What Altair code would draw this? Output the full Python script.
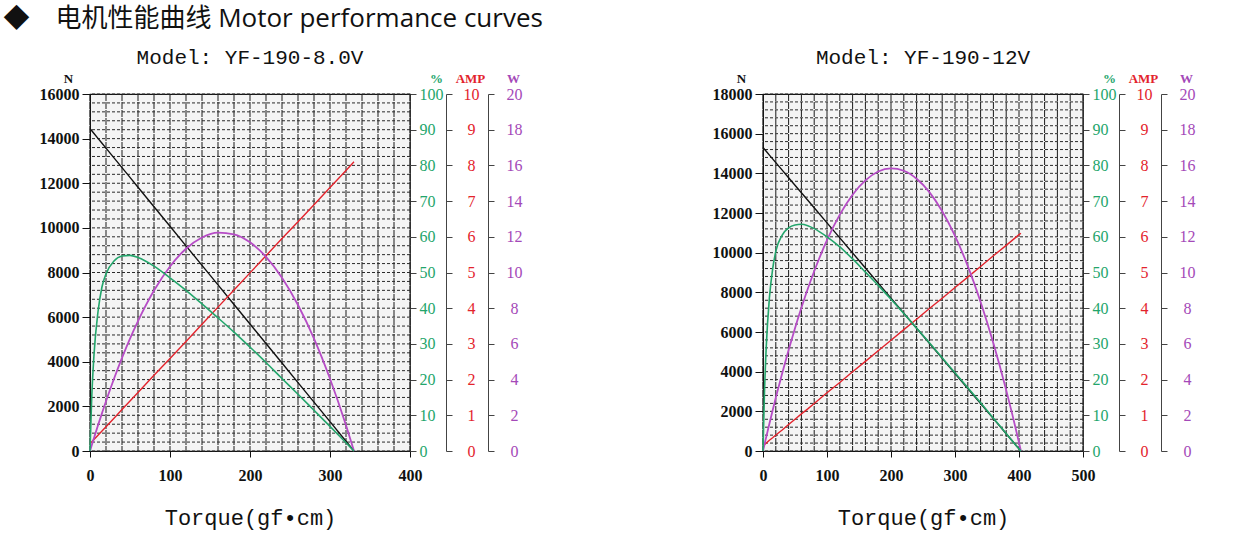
import altair as alt
import pandas as pd

# ---- YF-190 at 8.0 V ----
torque_8v = [0, 2, 5, 10, 15, 20, 30, 40, 50, 60, 80, 100, 120, 140, 160, 180,
             200, 220, 240, 260, 280, 300, 320, 330]
speed_8v = [14450, 14362, 14231, 14012, 13793, 13574, 13136, 12698, 12261, 11823,
            10947, 10071, 9195, 8320, 7444, 6568, 5692, 4817, 3941, 3065, 2189,
            1314, 438, 0]
eff_8v = [0, 14, 27, 39, 46, 49.6, 53.2, 54.6, 54.8, 54.2, 51.8, 48.5, 45.0, 41.2,
          37.3, 33.3, 29.1, 24.8, 20.3, 15.9, 11.4, 6.9, 2.3, 0]
current_8v = [0.20, 0.25, 0.32, 0.44, 0.56, 0.68, 0.92, 1.16, 1.40, 1.64, 2.12, 2.59,
              3.07, 3.55, 4.03, 4.51, 4.99, 5.47, 5.95, 6.42, 6.90, 7.38, 7.86, 8.10]
power_8v = [0, 0.30, 0.73, 1.44, 2.12, 2.79, 4.05, 5.22, 6.30, 7.28, 8.99, 10.34,
            11.33, 11.96, 12.23, 12.14, 11.69, 10.88, 9.71, 8.18, 6.30, 4.05, 1.44, 0]

# ---- YF-190 at 12 V ----
torque_12v = [0, 2, 5, 10, 15, 20, 30, 40, 50, 60, 70, 80, 100, 120, 140, 160, 180,
              200, 220, 240, 260, 280, 300, 320, 340, 360, 380, 400, 403]
speed_12v = [15300, 15224, 15110, 14920, 14731, 14541, 14161, 13781, 13402, 13022,
             12642, 12263, 11503, 10744, 9985, 9226, 8466, 7707, 6948, 6188, 5429,
             4670, 3910, 3151, 2392, 1633, 873, 114, 0]
eff_12v = [0, 14.5, 28.9, 42.9, 50.9, 55.9, 60.5, 62.5, 63.3, 63.5, 63.1, 62.3, 60.0,
           57.2, 53.8, 50.1, 46.4, 42.5, 38.5, 34.4, 30.3, 26.1, 21.9, 17.7, 13.5,
           9.2, 4.9, 0.6, 0]
current_12v = [0.15, 0.18, 0.22, 0.30, 0.37, 0.45, 0.59, 0.74, 0.89, 1.04, 1.18, 1.33,
               1.63, 1.92, 2.22, 2.51, 2.81, 3.10, 3.40, 3.69, 3.99, 4.28, 4.58, 4.87,
               5.17, 5.47, 5.76, 6.06, 6.10]
power_12v = [0, 0.31, 0.78, 1.53, 2.27, 2.99, 4.36, 5.66, 6.88, 8.02, 9.09, 10.07,
             11.81, 13.24, 14.36, 15.16, 15.66, 15.83, 15.70, 15.25, 14.50, 13.43,
             12.05, 10.36, 8.35, 6.04, 3.41, 0.47, 0]

pct_ticks = list(range(0, 101, 10))
amp_ticks = list(range(0, 11))
watt_ticks = list(range(0, 21, 2))

GREEN = "#23a56b"
RED = "#e3232c"
PURPLE = "#a449b8"
PURPLE_LINE = "#b64cc6"
SERIF = "Liberation Serif"
MONO = "Liberation Mono"

W, H = 320, 357


def x_enc(field, x_max):
    return alt.X(
        f"{field}:Q",
        scale=alt.Scale(domain=[0, x_max], nice=False, zero=True),
        axis=alt.Axis(
            values=list(range(0, x_max + 1, 100)), format="d", title="Torque(gf•cm)",
            titleFont=MONO, titleFontSize=22, titleFontWeight="normal",
            titleColor="#111", titlePadding=24,
            labelFont=SERIF, labelFontSize=16, labelFontWeight="bold",
            labelColor="#111", labelPadding=10, tickSize=6, tickColor="#111",
            domainColor="#111", grid=False, labelFlush=False,
        ),
    )


def right_axis(ticks, color, title, offset, align, pad, title_x):
    return alt.Axis(
        orient="right", offset=offset, values=ticks, format="d", grid=False,
        labelFont=SERIF, labelFontSize=16, labelColor=color, labelAlign=align,
        labelPadding=pad, tickSize=6, tickColor="#444", domainColor="#444",
        title=title, titleAngle=0, titleColor=color, titleFont=SERIF,
        titleFontSize=13, titleFontWeight="bold", titleAlign="center",
        titleBaseline="bottom", titleX=title_x, titleY=-9,
    )


def panel(model, torque, speed, eff, current, power, x_max, n_max):
    df = pd.DataFrame({"torque": torque, "speed": speed, "eff": eff,
                       "current": current, "power": power})
    vgrid = pd.DataFrame({"gx": list(range(0, x_max + 1, 20))})
    hgrid = pd.DataFrame({"gy": list(range(0, n_max + 1, 400))})

    v_lines = alt.Chart(vgrid).mark_rule(
        color="#1a1a1a", strokeWidth=1, strokeDash=[7, 1]
    ).encode(x=x_enc("gx", x_max))

    h_lines = alt.Chart(hgrid).mark_rule(
        color="#2a2a2a", strokeWidth=1, strokeDash=[3, 2]
    ).encode(y=alt.Y("gy:Q", scale=alt.Scale(domain=[0, n_max], nice=False), axis=None))

    base = alt.Chart(df).encode(x=x_enc("torque", x_max))

    speed_line = base.mark_line(color="#111", strokeWidth=1.4).encode(
        y=alt.Y("speed:Q", scale=alt.Scale(domain=[0, n_max], nice=False),
                axis=alt.Axis(
                    orient="left", values=list(range(0, n_max + 1, 2000)), format="d",
                    grid=False, labelFont=SERIF, labelFontSize=16, labelFontWeight="bold",
                    labelColor="#111", labelPadding=3, tickSize=8, tickColor="#111",
                    domainColor="#111", title="N", titleAngle=0, titleFont=SERIF,
                    titleFontSize=13, titleFontWeight="bold", titleColor="#111",
                    titleAlign="center", titleBaseline="bottom", titleX=-22, titleY=-9,
                ))
    )
    current_line = base.mark_line(color=RED, strokeWidth=1.4).encode(
        y=alt.Y("current:Q", scale=alt.Scale(domain=[0, 10], nice=False),
                axis=right_axis(amp_ticks, RED, "AMP", 36, "center", 19, 24))
    )
    power_line = base.mark_line(color=PURPLE_LINE, strokeWidth=1.8,
                                interpolate="monotone").encode(
        y=alt.Y("power:Q", scale=alt.Scale(domain=[0, 20], nice=False),
                axis=right_axis(watt_ticks, PURPLE, "W", 78, "center", 20, 25))
    )
    eff_line = base.mark_line(color=GREEN, strokeWidth=1.6, interpolate="monotone").encode(
        y=alt.Y("eff:Q", scale=alt.Scale(domain=[0, 100], nice=False),
                axis=right_axis(pct_ticks, GREEN, "%", 0, "left", 3, 26))
    )

    return alt.layer(
        v_lines, h_lines, speed_line, current_line, power_line, eff_line
    ).resolve_scale(y="independent").properties(
        width=W, height=H,
        title=alt.TitleParams(model, font=MONO, fontSize=21, fontWeight="normal",
                              color="#111", offset=4),
    )


left = panel("Model: YF-190-8.0V", torque_8v, speed_8v, eff_8v, current_8v,
             power_8v, 400, 16000)
right = panel("Model: YF-190-12V", torque_12v, speed_12v, eff_12v, current_12v,
              power_12v, 500, 18000)

chart = alt.hconcat(left, right, spacing=188).properties(
    title=alt.TitleParams(
        "◆\u3000电机性能曲线 Motor performance curves",
        font="Open Sans, Noto Sans CJK SC",
        fontSize=26, fontWeight="normal", color="#111", anchor="start",
        dx=-35, offset=14,
    ),
    padding={"left": 3, "top": 6, "right": 0, "bottom": 10},
).configure_view(fill="#f4f4f4", stroke="#111", strokeWidth=1.2)

chart.save("out.html", embed_options={"renderer": "svg", "actions": False})
